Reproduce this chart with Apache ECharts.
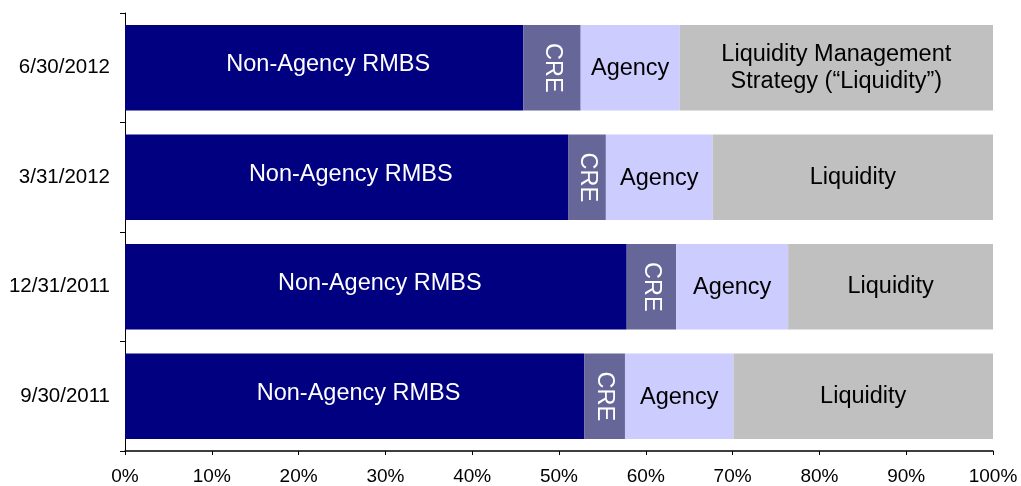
<!DOCTYPE html>
<html>
<head>
<meta charset="utf-8">
<script src="https://cdn.jsdelivr.net/npm/echarts@6/dist/echarts.min.js"></script>
<style>
html,body{margin:0;padding:0;background:#fff;}
#c{width:1021px;height:486px;}
</style>
</head>
<body>
<div id="c"></div>
<script>
var categories = ['9/30/2011', '12/31/2011', '3/31/2012', '6/30/2012'];
var nonAgency = [52.9, 57.8, 51.1, 45.9];
var cre = [4.7, 5.7, 4.3, 6.6];
var agency = [12.5, 12.9, 12.3, 11.4];
var liquidity = [29.9, 23.6, 32.3, 36.1];
var xTicks = ['0%','10%','20%','30%','40%','50%','60%','70%','80%','90%','100%'];

var FONT = '"Liberation Sans", Arial, sans-serif';
var chart = echarts.init(document.getElementById('c'));

function seriesDef(name, data, color, labelColor, extra) {
  var s = {
    name: name,
    type: 'bar',
    stack: 'total',
    data: data,
    barCategoryGap: '22%',
    itemStyle: { color: color },
    label: {
      show: true,
      position: 'inside',
      color: labelColor,
      fontFamily: FONT,
      fontSize: 23.5,
      lineHeight: 27
    },
    emphasis: { disabled: true }
  };
  if (extra) { for (var k in extra) s.label[k] = extra[k]; }
  return s;
}

chart.setOption({
  animation: false,
  grid: { left: 125, right: 28, top: 13, bottom: 34, containLabel: false },
  xAxis: {
    type: 'value',
    min: 0,
    max: 100,
    interval: 10,
    axisLine: { show: true, lineStyle: { color: '#000', width: 1.5 } },
    axisTick: { show: true, length: 4, lineStyle: { color: '#000' } },
    splitLine: { show: false },
    axisLabel: {
      color: '#000',
      fontFamily: FONT,
      fontSize: 19,
      margin: 16,
      formatter: function (v) { return xTicks[Math.round(v / 10)]; }
    }
  },
  yAxis: {
    type: 'category',
    data: categories,
    axisLine: { show: true, lineStyle: { color: '#000', width: 1 } },
    axisTick: { show: true, length: 5, lineStyle: { color: '#000' } },
    axisLabel: { color: '#000', fontFamily: FONT, fontSize: 20.5, margin: 15 }
  },
  series: [
    seriesDef('Non-Agency RMBS', nonAgency, '#000080', '#fff', {
      offset: [4, -3],
      formatter: function () { return 'Non-Agency RMBS'; }
    }),
    seriesDef('CRE', cre, '#666699', '#fff', {
      rotate: -90,
      formatter: function () { return 'CRE'; }
    }),
    seriesDef('Agency', agency, '#CCCCFF', '#000', {
      offset: [0, 1],
      formatter: function () { return 'Agency'; }
    }),
    seriesDef('Liquidity', liquidity, '#C0C0C0', '#000', {
      formatter: function (p) {
        return p.dataIndex === categories.length - 1
          ? 'Liquidity Management\nStrategy (\u201cLiquidity\u201d)'
          : 'Liquidity';
      }
    })
  ]
});
</script>
</body>
</html>
